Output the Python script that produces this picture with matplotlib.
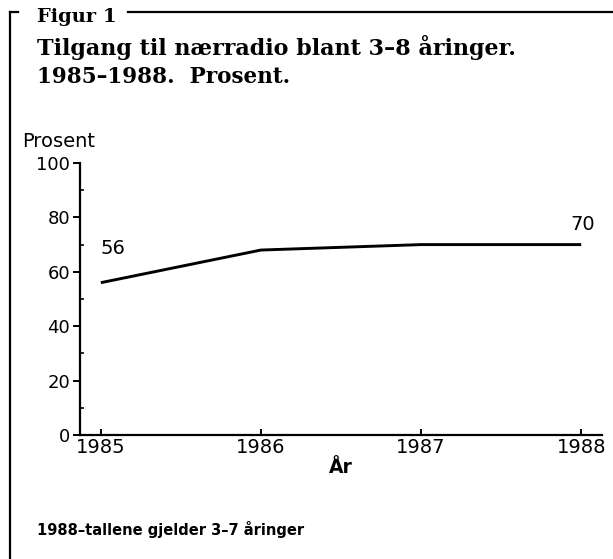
import matplotlib.pyplot as plt
from matplotlib.lines import Line2D

years = [1985, 1986, 1987, 1988]
prosent = [56, 68, 70, 70]
ytick_vals = [0, 20, 40, 60, 80, 100]

fig = plt.figure(figsize=(6.13, 5.59), dpi=100)
ax = fig.add_axes([80 / 613, 124 / 559, 522 / 613, 272 / 559])

ax.plot(years, prosent, color='black', lw=2.1, solid_capstyle='butt')
ax.set_xlim(1984.87, 1988.13)
ax.set_ylim(0, 100)
ax.set_xticks(years)
ax.set_yticks(ytick_vals)
ax.set_yticks(range(10, 100, 20), minor=True)

for s in ['top', 'right']:
    ax.spines[s].set_visible(False)
for s in ['left', 'bottom']:
    ax.spines[s].set_linewidth(1.6)

ax.tick_params(axis='y', which='major', direction='out', length=5, width=1.4,
               labelsize=13, pad=2)
ax.tick_params(axis='y', which='minor', direction='in', length=3, width=1.2)
ax.tick_params(axis='x', which='major', direction='in', length=4, width=1.4,
               labelsize=14, pad=2)

fig.text(22 / 613, 1 - 151 / 559, 'Prosent', ha='left', va='bottom', fontsize=14)
ax.set_xlabel('År', fontsize=13.5, fontweight='bold', labelpad=1)

# value labels at first and last point
ax.text(years[0], prosent[0] + 9, str(prosent[0]), fontsize=14, ha='left', va='bottom')
ax.text(years[-1] + 0.01, prosent[-1] + 4, str(prosent[-1]), fontsize=14, ha='center', va='bottom')

# titles
tfont = dict(family='DejaVu Serif', fontweight='bold')
fig.text(37 / 613, 1 - 17 / 559, 'Figur 1', va='center', fontsize=14, **tfont)
fig.text(37 / 613, 1 - 47 / 559, 'Tilgang til nærradio blant 3–8 åringer.', va='center',
         fontsize=16, **tfont)
fig.text(37 / 613, 1 - 77 / 559, '1985–1988.  Prosent.', va='center', fontsize=15.5, **tfont)

fig.text(37 / 613, 1 - 530 / 559, '1988–tallene gjelder 3–7 åringer',
         fontsize=10.5, fontweight='bold', va='center')

# frame around the figure
fig.add_artist(Line2D([10 / 613, 10 / 613], [0, 1 - 12 / 559], color='black', lw=1.6))
fig.add_artist(Line2D([10 / 613, 18 / 613], [1 - 12 / 559, 1 - 12 / 559], color='black', lw=1.6))
fig.add_artist(Line2D([128 / 613, 1], [1 - 12 / 559, 1 - 12 / 559], color='black', lw=1.6))

fig.savefig('out.png', dpi=100)
